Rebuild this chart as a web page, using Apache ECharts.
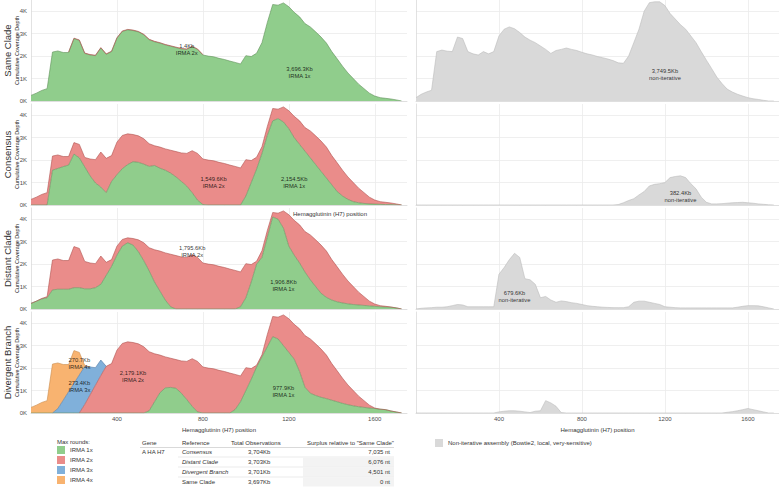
<!DOCTYPE html>
<html>
<head>
<meta charset="utf-8">
<script src="https://cdn.jsdelivr.net/npm/echarts@6.0.0/dist/echarts.min.js"></script>
<style>
html,body{margin:0;padding:0;background:#ffffff;}
#chart{width:779px;height:490px;}
</style>
</head>
<body>
<div id="chart"></div>
<script>
// ---------------- DATA (coverage depth in thousands) ----------------
// nucleotide positions (axis categories, 25 nt apart; the last one closes the axis)
const positions = [0,25,50,75,100,125,150,175,200,225,250,275,300,325,350,375,400,425,450,475,500,525,550,575,600,625,650,675,700,725,750,775,800,825,850,875,900,925,950,975,1000,1025,1050,1075,1100,1125,1150,1175,1200,1225,1250,1275,1300,1325,1350,1375,1400,1425,1450,1475,1500,1525,1550,1575,1600,1625,1650,1675,1700,1725,1750];

const sameClade1x = [0.25,0.35,0.47,0.55,2.18,2.23,2.16,2.16,2.78,2.70,2.12,2.05,2.02,2.36,2.08,2.20,2.80,3.10,3.17,3.14,3.08,2.95,2.73,2.64,2.58,2.50,2.44,2.38,2.32,2.30,2.42,2.30,2.05,2.00,1.97,1.90,1.85,1.78,1.72,1.65,2.02,1.98,2.13,2.60,3.50,4.30,4.27,4.37,4.20,3.95,3.75,3.45,3.30,3.08,2.85,2.58,2.20,1.88,1.55,1.25,1.00,0.75,0.55,0.35,0.22,0.15,0.12,0.09,0.05,0.00];
const sameClade2x = [null,null,null,null,null,null,null,0.02,0.02,0.02,0.02,0.02,0.02,0.02,0.02,0.02,0.02,0.02,0.02,0.02,0.02,0.02,0.02,0.02,0.02,0.02,0.02,0.02,0.02,0.02,0.02,0.02,0.02,null,null,null,null,null,null,null,null,null,null,null,null,null,null,null,null,null,null,null,null,null,null,null,null,null,null,null,null,null,null,null,null,null,null,null,null,null];

const consensus1x = [0,0,0,0,1.55,1.63,1.71,1.78,2.27,2.10,1.70,1.30,0.98,0.80,0.55,1.05,1.35,1.62,1.80,1.93,1.90,1.82,1.72,1.76,1.64,1.55,1.42,1.25,1.05,0.84,0.55,0.22,0.02,0,0,0,0,0,0,0,0.40,1.00,1.60,2.30,3.10,3.75,3.85,3.70,3.40,3.00,2.70,2.40,2.10,1.80,1.50,1.20,0.90,0.60,0.40,0.25,0.15,0.10,0.07,0.05,0.04,0.03,0.02,0.02,0.01,0];
const consensus2x = [0.25,0.35,0.47,0.55,0.63,0.60,0.45,0.38,0.51,0.60,0.42,0.75,1.04,1.56,1.53,1.15,1.45,1.48,1.37,1.21,1.18,1.13,1.01,0.88,0.94,0.95,1.02,1.13,1.27,1.46,1.87,2.08,2.03,2.00,1.97,1.90,1.85,1.78,1.72,1.65,1.62,0.98,0.53,0.30,0.40,0.55,0.42,0.67,0.80,0.95,1.05,1.05,1.20,1.28,1.35,1.38,1.30,1.28,1.15,1.00,0.85,0.65,0.48,0.30,0.18,0.12,0.10,0.07,0.04,0.00];

const distant1x = [0.25,0.35,0.45,0.50,0.85,0.88,0.88,0.88,0.95,0.95,0.90,0.90,0.95,1.10,1.50,1.90,2.40,2.80,2.95,2.85,2.55,2.15,1.70,1.20,0.80,0.40,0.10,0,0,0,0,0,0,0,0,0,0,0,0,0.10,0.50,1.20,2.00,2.30,3.20,4.10,4.00,3.60,2.80,2.40,2.05,1.65,1.30,1.00,0.70,0.52,0.40,0.32,0.27,0.23,0.20,0.18,0.16,0.14,0.12,0.10,0.09,0.08,0.05,0];
const distant2x = [0,0,0.02,0.05,1.33,1.35,1.28,1.28,1.83,1.75,1.22,1.15,1.07,1.26,0.58,0.30,0.40,0.30,0.22,0.29,0.53,0.80,1.03,1.44,1.78,2.10,2.34,2.38,2.32,2.30,2.42,2.30,2.05,2.00,1.97,1.90,1.85,1.78,1.72,1.55,1.52,0.78,0.13,0.30,0.30,0.20,0.27,0.77,1.40,1.55,1.70,1.80,2.00,2.08,2.15,2.06,1.80,1.56,1.28,1.02,0.80,0.57,0.39,0.21,0.10,0.05,0.03,0.01,0,0];

const divergent1x = [0,0,0,0,0,0,0,0,0,0,0,0,0,0,0,0,0,0,0,0,0,0,0.10,0.50,0.90,1.12,1.14,1.10,0.88,0.60,0.30,0.05,0,0,0,0,0,0,0.15,0.50,1.00,1.50,2.05,2.50,2.95,3.40,3.30,3.00,2.70,2.40,1.85,1.15,0.88,0.78,0.70,0.64,0.57,0.50,0.43,0.37,0.32,0.28,0.25,0.22,0.20,0.17,0.15,0.09,0.04,0];
const divergent2x = [null,null,null,null,null,null,null,null,null,0,0.38,0.81,1.24,1.67,2.08,2.20,2.80,3.10,3.17,3.14,3.08,2.95,2.63,2.14,1.68,1.38,1.30,1.28,1.44,1.70,2.12,2.25,2.05,2.00,1.97,1.90,1.85,1.78,1.57,1.15,1.02,0.48,0.08,0.10,0.55,0.90,0.97,1.37,1.50,1.55,1.90,2.30,2.42,2.30,2.15,1.94,1.63,1.38,1.12,0.88,0.68,0.47,0.30,0.13,0.02,0,0,0,0.01,0];
const divergent3x = [null,null,null,null,0,0.20,0.57,0.95,1.32,1.70,1.69,1.24,0.78,0.69,0,null,null,null,null,null,null,null,null,null,null,null,null,null,null,null,null,null,null,null,null,null,null,null,null,null,null,null,null,null,null,null,null,null,null,null,null,null,null,null,null,null,null,null,null,null,null,null,null,null,null,null,null,null,null,null];
const divergent4x = [0.25,0.35,0.47,0.55,2.18,2.03,1.59,1.21,1.46,1.00,0.05,0,null,null,null,null,null,null,null,null,null,null,null,null,null,null,null,null,null,null,null,null,null,null,null,null,null,null,null,null,null,null,null,null,null,null,null,null,null,null,null,null,null,null,null,null,null,null,null,null,null,null,null,null,null,null,null,null,null,null];

const sameCladeNonIter = [0.15,0.30,0.40,0.48,2.20,2.27,2.22,2.20,2.85,2.78,2.20,2.10,2.05,2.20,2.10,2.20,2.90,3.20,3.30,3.22,3.05,2.85,2.71,2.60,2.45,2.30,2.12,2.25,2.30,2.36,2.30,2.25,2.17,2.10,2.05,1.98,1.93,1.87,1.80,1.70,1.68,2.00,2.60,3.20,4.00,4.38,4.42,4.42,4.25,3.90,3.65,3.40,3.20,2.90,2.60,2.20,1.82,1.45,1.07,0.78,0.53,0.40,0.30,0.22,0.15,0.10,0.07,0.03,0,0];
const consensusNonIter = [0,0,0,0,0,0,0,0,0,0,0,0,0,0,0,0,0,0,0,0,0,0,0,0,0,0,0,0,0,0,0,0,0,0,0,0,0,0,0,0.02,0.10,0.20,0.28,0.45,0.60,0.85,0.92,0.95,1.00,1.22,1.27,1.30,1.22,0.95,0.72,0.35,0.12,0.05,0.05,0.06,0.08,0.10,0.11,0.12,0.10,0.08,0.05,0.03,0.01,0];
const distantNonIter = [0,0.03,0.05,0.06,0.08,0.08,0.10,0.15,0.20,0.18,0.10,0.10,0.10,0.10,0.10,0.10,1.55,1.85,2.20,2.48,2.30,1.35,1.30,1.10,0.50,0.56,0.40,0.30,0.36,0.33,0.28,0.25,0.20,0.15,0.12,0.10,0.08,0.07,0.06,0.06,0.06,0.10,0.30,0.35,0.35,0.30,0.25,0.20,0.10,0.08,0.06,0.05,0.05,0.05,0.05,0.05,0.05,0.05,0.05,0.05,0.05,0.05,0.08,0.12,0.15,0.15,0.14,0.10,0.05,0];
const divergentNonIter = [0,0,0,0,0,0,0,0,0,0,0,0,0,0,0,0,0.05,0.08,0.10,0.10,0.08,0.05,0.02,0.08,0.10,0.55,0.45,0.30,0.02,0,0,0,0,0,0,0,0,0,0,0,0,0,0,0,0,0,0,0,0,0,0,0,0,0,0,0,0,0,0,0,0.03,0.06,0.10,0.15,0.20,0.15,0.10,0.05,0,0];

const rowNames = ['Same Clade','Consensus','Distant Clade','Divergent Branch'];
const xTickLabels = [400, 800, 1200, 1600];
const yTickLabels = [0, 1, 2, 3, 4];
const X_TITLE = 'Hemagglutinin (H7) position';

// area annotations: [row, column, position, depth(K), text]
const annotations = [
  [0,0, 725, 2.30, '1.4Kb\nIRMA 2x'],
  [0,0, 1250, 1.25, '3,696.3Kb\nIRMA 1x'],
  [0,1, 1200, 1.18, '3,749.5Kb\nnon-iterative'],
  [1,0, 850, 1.00, '1,549.6Kb\nIRMA 2x'],
  [1,0, 1225, 1.00, '2,154.5Kb\nIRMA 1x'],
  [1,1, 1275, 0.38, '382.4Kb\nnon-iterative'],
  [2,0, 750, 2.57, '1,795.6Kb\nIRMA 2x'],
  [2,0, 1175, 1.03, '1,906.8Kb\nIRMA 1x'],
  [2,1, 475, 0.54, '679.6Kb\nnon-iterative'],
  [3,0, 225, 2.20, '270.7Kb\nIRMA 4x'],
  [3,0, 225, 1.16, '273.4Kb\nIRMA 3x'],
  [3,0, 475, 1.63, '2,179.1Kb\nIRMA 2x'],
  [3,0, 1175, 0.94, '977.9Kb\nIRMA 1x']
];

// summary table
const tableHeaders = ['Gene','Reference','Total Observations','Surplus relative to "Same Clade"'];
const tableGene = 'A HA H7';
const tableRefs = ['Consensus','Distant Clade','Divergent Branch','Same Clade'];
const tableTotals = ['3,704Kb','3,703Kb','3,701Kb','3,697Kb'];
const tableSurplus = ['7,035 nt','6,076 nt','4,501 nt','0 nt'];

const legendRounds = ['IRMA 1x','IRMA 2x','IRMA 3x','IRMA 4x'];
const NONITER = 'Non-iterative assembly (Bowtie2, local, very-sensitive)';

// ---------------- STYLE ----------------
const FONT = '"Liberation Sans", Arial, Helvetica, sans-serif';
const fill = {'IRMA 1x':'#90cd8c','IRMA 2x':'#ea8c8a','IRMA 3x':'#80b0da','IRMA 4x':'#f8b370'};
fill[NONITER] = '#d9d9d9';
const edge = {'IRMA 1x':'#5f9159','IRMA 2x':'#b0534f','IRMA 3x':'#4f79a6','IRMA 4x':'#c98b4b'};
edge[NONITER] = '#bcbcbc';

const rowData = [
  {layers:[['IRMA 1x', sameClade1x], ['IRMA 2x', sameClade2x]], nonIter: sameCladeNonIter},
  {layers:[['IRMA 1x', consensus1x], ['IRMA 2x', consensus2x]], nonIter: consensusNonIter},
  {layers:[['IRMA 1x', distant1x], ['IRMA 2x', distant2x]], nonIter: distantNonIter},
  {layers:[['IRMA 1x', divergent1x], ['IRMA 2x', divergent2x], ['IRMA 3x', divergent3x], ['IRMA 4x', divergent4x]], nonIter: divergentNonIter}
];

const ROW_TOP = [0, 104, 208, 312];
const ROW_H = 101;
const COL = [{left:31, width:376}, {left:416, width:363}];

const isTick = (index, value) => xTickLabels.indexOf(Number(value)) >= 0;
const grids = [], xAxes = [], yAxes = [], series = [];
const gridIndex = (r, c) => r * 2 + c;

rowData.forEach((row, r) => {
  [0, 1].forEach(c => {
    const gi = gridIndex(r, c);
    const bottom = r === 3;
    grids.push({left: COL[c].left, width: COL[c].width, top: ROW_TOP[r], height: ROW_H,
      containLabel: false, outerBoundsMode: 'none'});
    xAxes.push({
      type: 'category', gridIndex: gi, data: positions, boundaryGap: false,
      axisLine: {show: true, lineStyle: {color: '#dadada', width: 0.8}},
      axisTick: {show: false},
      axisLabel: {show: bottom, interval: isTick, fontSize: 6, color: '#4d4d4d', margin: 3, fontFamily: FONT},
      splitLine: {show: true, interval: isTick, lineStyle: {color: '#ebebeb', width: 0.8}},
      name: bottom ? X_TITLE : '',
      nameLocation: 'middle', nameGap: 14,
      nameTextStyle: {fontSize: 6, color: '#333', fontFamily: FONT}
    });
    yAxes.push({
      type: 'value', gridIndex: gi, min: 0, max: 4.5, interval: 1,
      axisLine: {show: true, lineStyle: {color: '#dadada', width: 0.8}},
      axisTick: {show: false},
      axisLabel: {show: c === 0, fontSize: 6, color: '#4d4d4d', margin: 4, fontFamily: FONT,
        showMaxLabel: false,
        formatter: v => yTickLabels.indexOf(v) >= 0 ? v + 'K' : ''},
      splitLine: {show: true, showMaxLine: false, lineStyle: {color: '#ebebeb', width: 0.8}}
    });
    const layers = c === 0 ? row.layers : [[NONITER, row.nonIter]];
    layers.forEach(([name, vals]) => {
      series.push({
        type: 'line', name: name, xAxisIndex: gi, yAxisIndex: gi,
        stack: 'panel' + gi, symbol: 'none', showSymbol: false, connectNulls: false,
        data: vals,
        lineStyle: {color: edge[name], width: 0.6},
        itemStyle: {color: fill[name]},
        areaStyle: {color: fill[name], opacity: 1},
        emphasis: {disabled: true}, silent: true, animation: false
      });
    });
  });
});

// annotation labels placed in data coordinates
for (let g = 0; g < 8; g++) {
  const items = annotations.filter(a => gridIndex(a[0], a[1]) === g);
  if (!items.length) continue;
  series.push({
    type: 'scatter', xAxisIndex: g, yAxisIndex: g, symbolSize: 0, silent: true,
    data: items.map(a => ({value: [String(a[2]), a[3]], name: a[4]})),
    label: {show: true, position: 'inside', formatter: '{b}', fontSize: 5.8, lineHeight: 7,
      color: '#000', fontFamily: FONT, align: 'center', verticalAlign: 'middle'},
    emphasis: {disabled: true}, animation: false, z: 10
  });
}

// graphics: strip titles, legend title, table
const graphics = [];
rowNames.forEach((n, r) => {
  const cy = ROW_TOP[r] + ROW_H / 2;
  graphics.push({type: 'text', x: 7.5, y: cy, rotation: Math.PI / 2,
    style: {text: n, fontSize: 9.5, fill: '#333', fontFamily: FONT, align: 'center', verticalAlign: 'middle'}});
  graphics.push({type: 'text', x: 17, y: cy, rotation: Math.PI / 2,
    style: {text: 'Cumulative Coverage Depth', fontSize: 5.5, fill: '#222', fontFamily: FONT, align: 'center', verticalAlign: 'middle'}});
});
// stray axis title visible between the 2nd and 3rd rows of the left column
graphics.push({type: 'text', x: 330, y: 214,
  style: {text: X_TITLE, fontSize: 6, fill: '#333', fontFamily: FONT, align: 'center', verticalAlign: 'middle'}});
graphics.push({type: 'text', x: 57, y: 442,
  style: {text: 'Max rounds:', fontSize: 6, fill: '#333', fontFamily: FONT, align: 'left', verticalAlign: 'middle'}});

const colX = [142, 182, 231, 307];
const headY = 443, rowY0 = 452, rowStep = 10;
tableHeaders.forEach((h, i) => graphics.push({type: 'text', x: colX[i], y: headY,
  style: {text: h, fontSize: 6, fill: '#333', fontFamily: FONT, align: 'left', verticalAlign: 'middle'}}));
graphics.push({type: 'line', shape: {x1: 140, y1: 447.5, x2: 394, y2: 447.5}, style: {stroke: '#cfcfcf', lineWidth: 0.8}});
tableRefs.forEach((ref, i) => {
  const y = rowY0 + i * rowStep;
  if (i > 0) {
    graphics.push({type: 'rect', shape: {x: 303, y: y - 4.5, width: 91, height: 9}, style: {fill: '#f3f3f3'}});
  }
  if (i < tableRefs.length - 1) {
    graphics.push({type: 'line', shape: {x1: 178, y1: y + 5, x2: 394, y2: y + 5}, style: {stroke: '#dedede', lineWidth: 0.6}});
  }
  if (i === 0) graphics.push({type: 'text', x: colX[0], y: y,
    style: {text: tableGene, fontSize: 6, fill: '#333', fontFamily: FONT, align: 'left', verticalAlign: 'middle'}});
  graphics.push({type: 'text', x: colX[1], y: y,
    style: {text: ref, fontSize: 6, fill: '#333', fontFamily: FONT, fontStyle: i < 3 ? 'italic' : 'normal', align: 'left', verticalAlign: 'middle'}});
  graphics.push({type: 'text', x: 248, y: y,
    style: {text: tableTotals[i], fontSize: 6, fill: '#333', fontFamily: FONT, align: 'left', verticalAlign: 'middle'}});
  graphics.push({type: 'text', x: 390, y: y,
    style: {text: tableSurplus[i], fontSize: 6, fill: '#333', fontFamily: FONT, align: 'right', verticalAlign: 'middle'}});
});

const legendText = {fontSize: 6, color: '#333', fontFamily: FONT};
const option = {
  backgroundColor: '#ffffff',
  animation: false,
  grid: grids, xAxis: xAxes, yAxis: yAxes, series: series,
  legend: [
    {data: legendRounds, orient: 'vertical', left: 57, top: 446, padding: 0,
      itemWidth: 8, itemHeight: 8, itemGap: 2, icon: 'rect', selectedMode: false,
      itemStyle: {borderWidth: 0}, textStyle: legendText},
    {data: [NONITER], orient: 'vertical', left: 435, top: 439, padding: 0,
      itemWidth: 8, itemHeight: 8, icon: 'rect', selectedMode: false,
      itemStyle: {borderWidth: 0}, textStyle: legendText}
  ],
  graphic: graphics
};

const chart = echarts.init(document.getElementById('chart'), null, {renderer: 'svg'});
chart.setOption(option);
</script>
</body>
</html>
